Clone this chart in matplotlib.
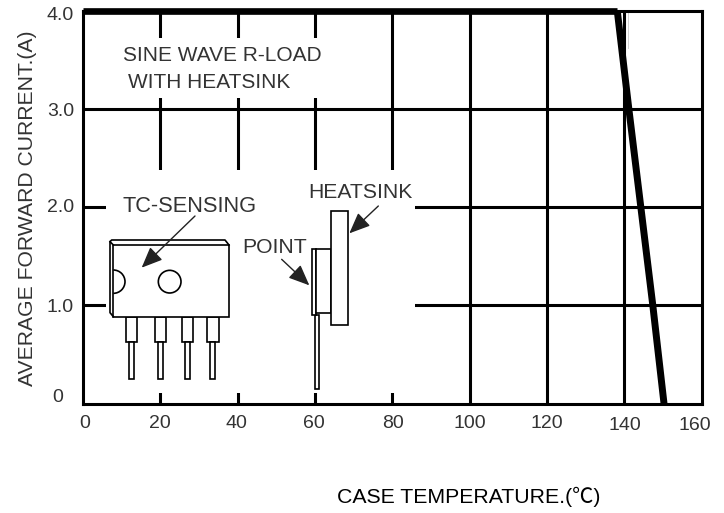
import matplotlib
matplotlib.use("Agg")
import matplotlib.pyplot as plt
from matplotlib.patches import Rectangle, Circle, Arc, FancyArrowPatch
from matplotlib.transforms import Affine2D

W, H = 724, 513
FONT = ['Liberation Sans', 'Noto Sans CJK SC', 'DejaVu Sans']
plt.rcParams['font.family'] = FONT

# Data
temperature = [138.2, 141.2, 144.3, 147.4, 150.3]
current = [4.0, 3.0, 2.0, 1.0, 0.0]
flat_temperature = [0, 138.2]
flat_current = [4.0, 4.0]
x_ticks = [0, 20, 40, 60, 80, 100, 120, 140, 160]
y_ticks = [0, 1, 2, 3, 4]
x_tick_labels = ['0', '20', '40', '60', '80', '100', '120', '140', '160']
y_tick_labels = ['0', '1.0', '2.0', '3.0', '4.0']
y_label = 'AVERAGE FORWARD CURRENT.(A)'
case_label = 'CASE TEMPERATURE.(℃)'

# Label positions (image pixels)
x_tick_label_px = [(85, 423), (160, 423), (236, 423), (314, 423), (393, 423),
                   (470, 423), (547, 423), (625, 425), (695, 425)]
y_tick_label_px = [(63, 398), (74, 307), (74, 207), (74, 112), (74, 15)]

fig = plt.figure(figsize=(W / 100, H / 100), dpi=100, facecolor='white')
L, R, B, T = 83, 701.5, 403.5, 10.5
ax = fig.add_axes([L / W, 1 - B / H, (R - L) / W, (B - T) / H])
ax.set_xlim(0, 160)
ax.set_ylim(0, 4)
ax.set_xticks([])
ax.set_yticks([])
for s in ax.spines.values():
    s.set_linewidth(2.2)
    s.set_zorder(6)

px = Affine2D().scale(1, -1).translate(0, H)

# Grid
GRID = 2.2
for t in x_ticks[1:-1]:
    ax.plot([t, t], [0, 4], color='black', lw=GRID, zorder=1, solid_capstyle='butt')
for v in y_ticks[1:-1]:
    ax.plot([0, 160], [v, v], color='black', lw=GRID, zorder=1, solid_capstyle='butt')

# Blank areas behind the annotations
ax.add_patch(Rectangle((4.5, 3.11), 62.5, 0.61, fc='white', ec='none', zorder=2))
ax.add_patch(Rectangle((5.9, 0.107), 80.1, 2.273, fc='white', ec='none', zorder=2))

# Curve
ax.plot(flat_temperature, flat_current, color='black', lw=4.8, zorder=4,
        solid_capstyle='butt', clip_on=False)
ax.plot(temperature, current, color='black', lw=5.0, zorder=4,
        solid_capstyle='butt', clip_on=False)
ax.plot([140.9, 140.9], [3.62, 3.98], color='#d0d0d0', lw=0.7, zorder=5)

# Package illustration (image pixels)
def zx(v):
    return 60 + v / 3
def zy(v):
    return 180 + v / 3

LW = 1.2
def box(x0, x1, y0, y1):
    fig.add_artist(Rectangle((zx(x0), zy(y0)), (x1 - x0) / 3, (y1 - y0) / 3,
                             fc='white', ec='black', lw=LW, transform=px, zorder=7))
def line(xs, ys, color='black', lw=LW):
    fig.add_artist(plt.Line2D([zx(v) for v in xs], [zy(v) for v in ys],
                              color=color, lw=lw, transform=px, zorder=8))

for a, b in [(198, 232), (284, 318), (365, 400), (442, 476)]:
    box(a, b, 410, 487)
for a, b in [(208, 222), (294, 308), (375, 389), (451, 465)]:
    box(a, b, 487, 596)
box(160, 507, 195, 410)
line([160, 150, 150, 155, 495, 507], [410, 398, 185, 180, 180, 195])
line([150, 160], [185, 195])
fig.add_artist(Arc((zx(160), zy(305)), 70 / 3, 70 / 3, theta1=-90, theta2=90,
                   ec='black', lw=LW, transform=px, zorder=8))
fig.add_artist(Circle((zx(329), zy(305)), 34 / 3, fc='white', ec='black', lw=LW,
                      transform=px, zorder=8))

box(766, 778, 405, 628)
box(755, 767, 207, 405)
box(767, 814, 207, 400)
box(814, 864, 93, 434)

# Arrows
def arrow(x0, y0, x1, y1):
    fig.add_artist(FancyArrowPatch((zx(x0), zy(y0)), (zx(x1), zy(y1)), transform=px,
                                   arrowstyle='-|>,head_length=0.8,head_width=0.34',
                                   mutation_scale=16, color='#222222', lw=1.0,
                                   shrinkA=0, shrinkB=0, zorder=9))
arrow(405, 108, 245, 263)
arrow(955, 78, 868, 160)
arrow(665, 238, 748, 316)

# Text
TC = '#333333'
def label(x, y, s, size=15, ha='left', va='center', color=TC, rotation=0):
    fig.text(x, y, s, transform=px, fontsize=size, ha=ha, va=va, color=color,
             rotation=rotation, family=FONT, zorder=10)

for (x, y), s in zip(x_tick_label_px, x_tick_labels):
    label(x, y, s, size=14, ha='center')
for (x, y), s in zip(y_tick_label_px, y_tick_labels):
    label(x, y, s, size=14, ha='right')

label(28, 208, y_label, size=15.2, ha='center', rotation=90)
label(337, 497, case_label, size=15.3, color='black')
label(123, 55.7, 'SINE WAVE R-LOAD')
label(127.7, 82.7, 'WITH HEATSINK')
label(122.7, 206, 'TC-SENSING', size=15.7)
label(308, 192, 'HEATSINK', size=15.2)
label(242, 247.7, 'POINT', size=15.2)

fig.savefig('out.png', dpi=100, facecolor='white')
